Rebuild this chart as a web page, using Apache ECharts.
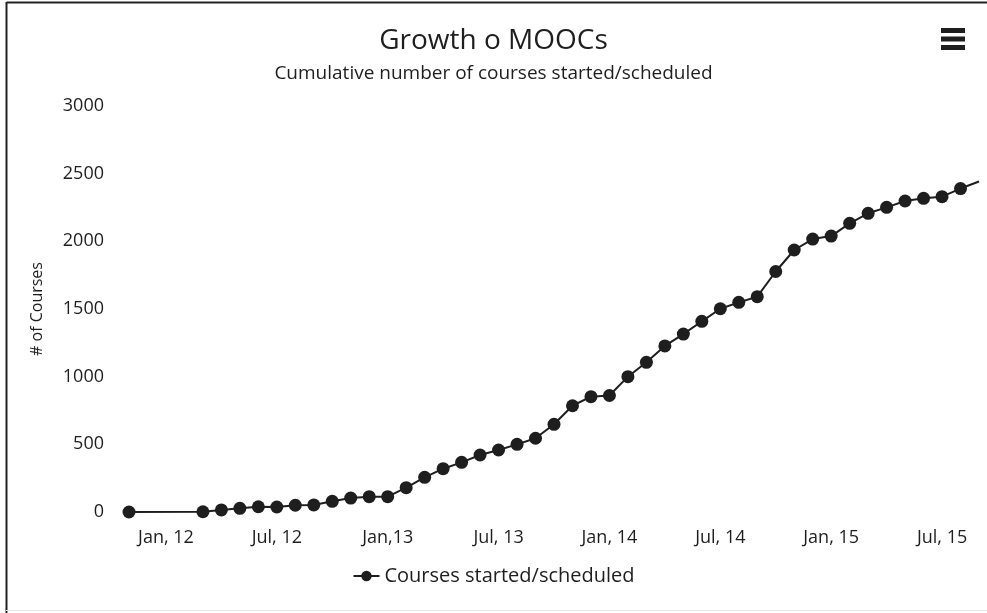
<!DOCTYPE html>
<html>
<head>
<meta charset="utf-8">
<title>Growth o MOOCs</title>
<script src="https://cdn.jsdelivr.net/npm/echarts@6/dist/echarts.min.js"></script>
<style>
  html, body { margin: 0; padding: 0; background: #fff; }
  #growthChart { width: 987px; height: 613px; }
</style>
</head>
<body>
<div id="growthChart"></div>
<script>
// months Nov 2011 .. Sep 2015 (one point per month)
const months = [
  "2011-11", "2011-12", "2012-01", "2012-02", "2012-03", "2012-04", "2012-05", "2012-06",
  "2012-07", "2012-08", "2012-09", "2012-10", "2012-11", "2012-12", "2013-01", "2013-02",
  "2013-03", "2013-04", "2013-05", "2013-06", "2013-07", "2013-08", "2013-09", "2013-10",
  "2013-11", "2013-12", "2014-01", "2014-02", "2014-03", "2014-04", "2014-05", "2014-06",
  "2014-07", "2014-08", "2014-09", "2014-10", "2014-11", "2014-12", "2015-01", "2015-02",
  "2015-03", "2015-04", "2015-05", "2015-06", "2015-07", "2015-08", "2015-09"
];
// cumulative courses, null = no data that month
const courses = [
  0, null, null, null, 2, 15, 27, 39,
  37, 50, 52, 79, 103, 113, 113, 180,
  256, 320, 367, 421, 458, 500, 545, 648,
  785, 852, 861, 1000, 1106, 1227, 1315, 1409,
  1502, 1549, 1591, 1777, 1936, 2017, 2039, 2133,
  2207, 2251, 2298, 2318, 2330, 2390, 2442
];
const tickMonths = ["2012-01", "2012-07", "2013-01", "2013-07", "2014-01", "2014-07", "2015-01", "2015-07"];
const tickLabels = ["Jan, 12", "Jul, 12", "Jan,13", "Jul, 13", "Jan, 14", "Jul, 14", "Jan, 15", "Jul, 15"];

const fontFamily = '"Open Sans", "Noto Sans", sans-serif';
const ink = "#1e1e1e";

const chart = echarts.init(document.getElementById("growthChart"));

const options = {
  animation: false,
  textStyle: { fontFamily: fontFamily, color: ink },
  title: {
    text: "Growth o MOOCs",
    subtext: "Cumulative number of courses started/scheduled",
    left: "center",
    top: 22,
    itemGap: 9,
    textStyle: { fontFamily: fontFamily, fontSize: 28, fontWeight: "normal", color: ink },
    subtextStyle: { fontFamily: fontFamily, fontSize: 19, color: ink },
  },
  grid: {
    left: 129,
    right: 8,
    top: 106,
    bottom: 101,
  },
  legend: {
    bottom: 22,
    left: "center",
    itemWidth: 26,
    itemHeight: 13,
    itemGap: 10,
    textStyle: { fontFamily: fontFamily, fontSize: 20, color: ink },
  },
  xAxis: {
    type: "category",
    data: months,
    boundaryGap: false,
    axisLine: { show: false },
    axisTick: { show: false },
    splitLine: { show: false },
    axisLabel: {
      interval: 0,
      margin: 17,
      fontSize: 18,
      color: ink,
      formatter: function (v) {
        const i = tickMonths.indexOf(v);
        return i >= 0 ? tickLabels[i] : "";
      },
    },
  },
  yAxis: {
    type: "value",
    min: 0,
    max: 3000,
    interval: 500,
    name: "# of Courses",
    nameLocation: "middle",
    nameGap: 84,
    nameTextStyle: { fontFamily: fontFamily, fontSize: 16, color: ink },
    axisLine: { show: false },
    axisTick: { show: false },
    splitLine: { show: false },
    axisLabel: {
      margin: 25,
      fontSize: 18,
      color: ink,
      formatter: function (v) {
        return String(v);
      },
    },
  },
  series: [
    {
      name: "Courses started/scheduled",
      type: "line",
      connectNulls: true,
      symbol: "circle",
      symbolSize: 13,
      itemStyle: { color: ink },
      lineStyle: { color: ink, width: 2 },
      // the last point runs off the right edge, no marker there
      data: courses.map(function (v, i) {
        return i === courses.length - 1 ? { value: v, symbol: "none" } : v;
      }),
    },
  ],
  graphic: [
    // frame: dark top + left, faint bottom
    { type: "line", shape: { x1: 6.5, y1: 2.5, x2: 987, y2: 2.5 }, style: { stroke: "#222", lineWidth: 2 } },
    { type: "line", shape: { x1: 6.5, y1: 2, x2: 6.5, y2: 613 }, style: { stroke: "#222", lineWidth: 2 } },
    { type: "line", shape: { x1: 6, y1: 610.5, x2: 987, y2: 610.5 }, style: { stroke: "#e4e4e4", lineWidth: 1 } },
    // menu icon
    { type: "rect", shape: { x: 941, y: 28, width: 24, height: 5 }, style: { fill: ink } },
    { type: "rect", shape: { x: 941, y: 36.5, width: 24, height: 5 }, style: { fill: ink } },
    { type: "rect", shape: { x: 941, y: 45, width: 24, height: 5 }, style: { fill: ink } },
  ],
};

chart.setOption(options);

window.addEventListener("resize", () => {
  chart.resize();
});
</script>
</body>
</html>
